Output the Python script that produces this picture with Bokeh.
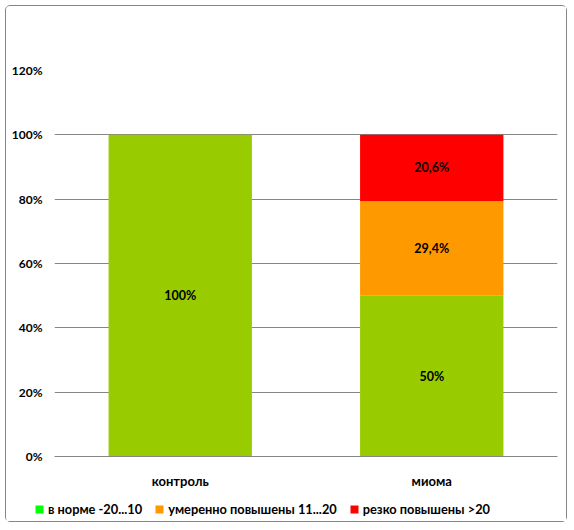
from bokeh.plotting import figure
from bokeh.layouts import column
from bokeh.models import (FactorRange, Range1d, ColumnDataSource, Legend, LegendItem, FixedTicker,
                          CustomJSTickFormatter)
from bokeh.embed import file_html
from bokeh.resources import INLINE
from bokeh.core.properties import value

categories = ["контроль", "миома"]
series = ["normal", "moderate", "sharp"]
series_labels = ["в норме -20...10", "умеренно повышены 11...20", "резко повышены >20"]
normal = [100, 50]
moderate = [0, 29.4]
sharp = [0, 20.6]
label_texts = {"normal": ["100%", "50%"], "moderate": ["", "29,4%"], "sharp": ["", "20,6%"]}
bar_colors = ["#99CC00", "#FF9900", "#FF0000"]
legend_colors = ["#00FF00", "#FF9900", "#FF0000"]
y_ticks = [0, 20, 40, 60, 80, 100, 120]

FONT = "Lato"
W = 560

p = figure(x_range=FactorRange(*categories), y_range=Range1d(0, 120),
           width=W, height=490, output_backend="svg", toolbar_location=None,
           min_border_left=48, min_border_right=9, min_border_top=64, min_border_bottom=40)

src = ColumnDataSource(dict(cat=categories, normal=normal, moderate=moderate, sharp=sharp))
p.vbar_stack(series, x="cat", width=0.57, source=src, color=bar_colors, line_color=None)

# data labels
for i, s in enumerate(series):
    base = [sum(v) for v in zip(*[src.data[t] for t in series[:i]])] if i > 0 else [0, 0]
    mid = [b + v / 2 for b, v in zip(base, src.data[s])]
    lsrc = ColumnDataSource(dict(cat=categories, y=mid, t=label_texts[s]))
    p.text(x="cat", y="y", text="t", source=lsrc, text_align="center", text_baseline="middle",
           text_font=value(FONT), text_font_style="bold", text_font_size="12.5px", text_color="black")

p.xgrid.grid_line_color = None
p.ygrid.grid_line_color = "#868686"
p.ygrid.ticker = FixedTicker(ticks=y_ticks)
p.yaxis.ticker = FixedTicker(ticks=y_ticks)
p.yaxis.formatter = CustomJSTickFormatter(code="return tick + '%';")
p.yaxis.axis_line_color = None
p.yaxis.major_tick_line_color = None
p.yaxis.minor_tick_line_color = None
p.yaxis.major_tick_out = 0
p.yaxis.major_label_standoff = 12
p.xaxis.axis_line_color = "#868686"
p.xaxis.major_tick_line_color = None
p.xaxis.major_tick_out = 0
p.xaxis.major_label_standoff = 16
for ax in (p.xaxis, p.yaxis):
    ax.major_label_text_font = FONT
    ax.major_label_text_font_style = "bold"
    ax.major_label_text_font_size = "12px"
    ax.major_label_text_color = "black"
p.xaxis.major_label_text_font_size = "13px"
p.outline_line_color = None
p.x_range.range_padding = 0

# legend strip: proxy bars share the data but the strip's ranges lie away from them,
# so only their legend swatches are visible
p2 = figure(x_range=Range1d(-3, -2), y_range=Range1d(-3, -2), width=W, height=25,
            output_backend="svg", toolbar_location=None,
            x_axis_location=None, y_axis_location=None,
            min_border_left=0, min_border_right=0, min_border_top=0, min_border_bottom=0)
p2.grid.grid_line_color = None
p2.outline_line_color = None
rs = [p2.vbar(x=s, top=s, width=1, source=src, fill_color=c, line_color=None)
      for s, c in zip(series, legend_colors)]
legend = Legend(items=[LegendItem(label=l, renderers=[r]) for l, r in zip(series_labels, rs)],
                location=(28, 4), orientation="horizontal",
                glyph_width=10, glyph_height=10, label_standoff=4, spacing=12, padding=0, margin=0,
                border_line_color=None, background_fill_alpha=0,
                label_text_font=FONT, label_text_font_style="bold", label_text_font_size="12.8px",
                label_text_color="black", label_height=12)
p2.add_layout(legend, "center")

for f in (p, p2):
    if "frame_align" in f.properties():
        f.frame_align = False

layout = column(p, p2, spacing=0)
layout.styles = {"border": "1.5px solid #868686", "border-radius": "5px", "margin": "5px 0 0 5px"}

open("out.html", "w").write(file_html(layout, INLINE))
